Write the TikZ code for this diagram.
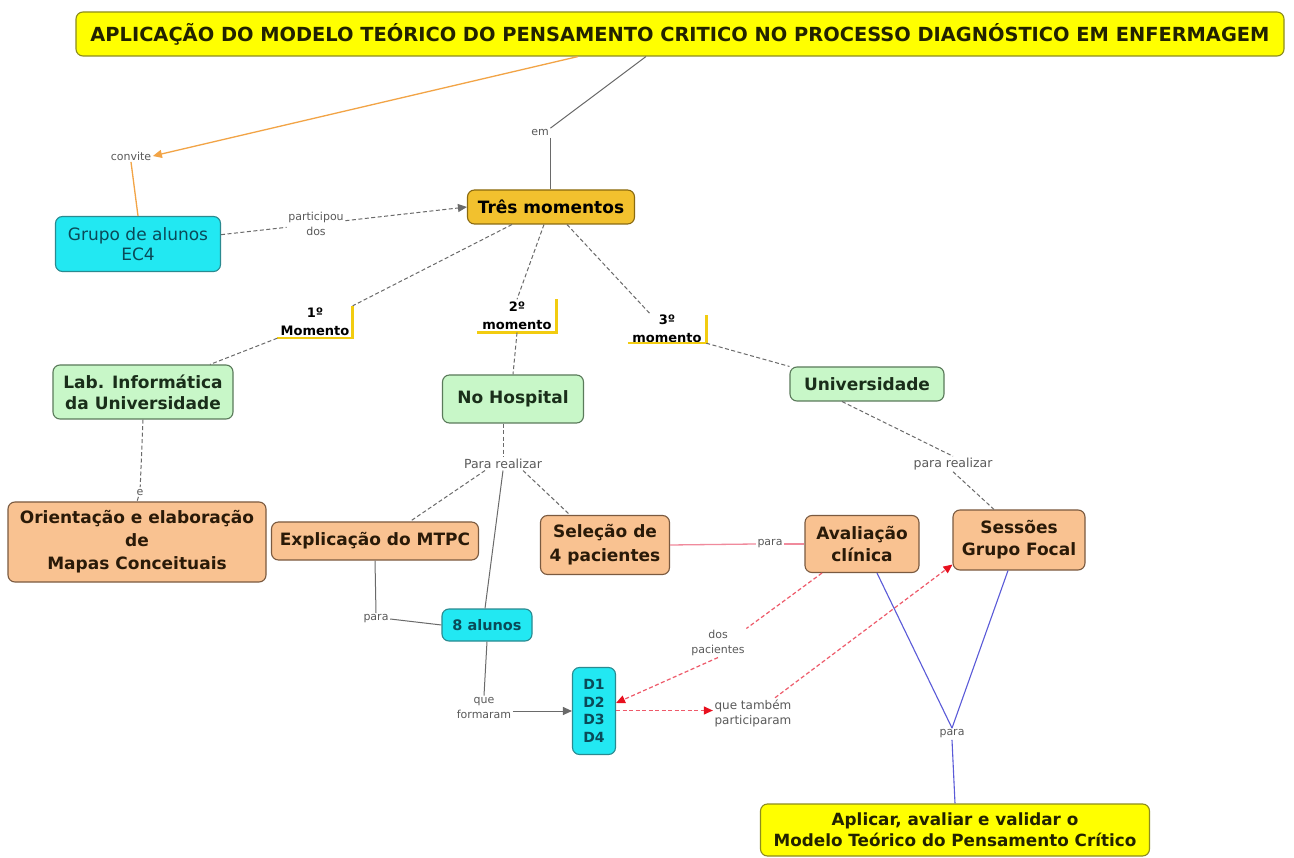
\documentclass[tikz,border=0pt]{standalone}
\usepackage{fontspec}
\setmainfont{DejaVu Sans}
\usetikzlibrary{arrows.meta}

\definecolor{ttlfill}{HTML}{FFFF00}
\definecolor{ttlline}{HTML}{8C8C1E}
\definecolor{ttltext}{HTML}{222200}
\definecolor{goldfill}{HTML}{F2C12E}
\definecolor{goldline}{HTML}{8A6A10}
\definecolor{cyanfill}{HTML}{22E8F2}
\definecolor{cyanline}{HTML}{2A8A90}
\definecolor{cyantext}{HTML}{0A4A58}
\definecolor{greenfill}{HTML}{C8F7C8}
\definecolor{greenline}{HTML}{5A7A5A}
\definecolor{greentext}{HTML}{1A2E1A}
\definecolor{orfill}{HTML}{F9C291}
\definecolor{orline}{HTML}{7A5A40}
\definecolor{ortext}{HTML}{2A1A08}
\definecolor{lbltext}{HTML}{5A5A5A}
\definecolor{momyellow}{HTML}{F2CC10}
\definecolor{invite}{HTML}{F2A446}
\definecolor{linkgray}{HTML}{6A6A6A}
\definecolor{pinkline}{HTML}{F08A9C}
\definecolor{reddash}{HTML}{EE5A6A}
\definecolor{redtip}{HTML}{E8101E}
\definecolor{blueline}{HTML}{5A5AD8}

\tikzset{
  concept/.style={draw, rounded corners=7pt, line width=1.1pt, align=center,
    inner sep=0pt, font=\bfseries\fontsize{17}{22}\selectfont},
  ttlbox/.style={concept, fill=ttlfill, draw=ttlline, text=ttltext},
  goldbox/.style={concept, fill=goldfill, draw=goldline, text=black},
  cyanbox/.style={concept, fill=cyanfill, draw=cyanline, text=cyantext},
  greenbox/.style={concept, fill=greenfill, draw=greenline, text=greentext},
  orbox/.style={concept, fill=orfill, draw=orline, text=ortext},
  lbl/.style={font=\fontsize{11}{15}\selectfont, text=lbltext, align=center, inner sep=1.5pt},
  mom/.style={font=\bfseries\fontsize{13}{18}\selectfont, text=black, align=center, inner sep=0pt},
  momline/.style={draw=momyellow, line width=2.6pt},
  tipk/.style={-{Triangle[length=9pt,width=8pt]}},
  invitelink/.style={draw=invite, line width=1.3pt},
  solidlink/.style={draw=linkgray, line width=1pt},
  dashlink/.style={draw=linkgray, line width=1pt, dash pattern=on 4pt off 2.5pt},
  pinklink/.style={draw=pinkline, line width=1.3pt},
  redlink/.style={draw=reddash, line width=1.2pt, dash pattern=on 4pt off 2.5pt},
  redtipk/.style={-{Triangle[length=9pt,width=8pt,color=redtip]}},
  bluelink/.style={draw=blueline, line width=1.1pt},
}

\begin{document}
\begin{tikzpicture}[x=1pt,y=-1pt]
\useasboundingbox[fill=white] (0,0) rectangle (1294,858);

% concepts
\node[ttlbox, minimum width=1208pt, minimum height=44pt, font=\bfseries\fontsize{19.4}{22}\selectfont] (title) at (680,34)
  {APLICAÇÃO DO MODELO TEÓRICO DO PENSAMENTO CRITICO NO PROCESSO DIAGNÓSTICO EM ENFERMAGEM};
\node[goldbox, minimum width=167pt, minimum height=34pt] (tres) at (551,207) {Três momentos};
\node[cyanbox, minimum width=165pt, minimum height=55pt, font=\fontsize{17}{20}\selectfont] (grupo) at (138,244) {Grupo de alunos\\EC4};
\node[greenbox, minimum width=180pt, minimum height=54pt, font=\bfseries\fontsize{17}{21}\selectfont] (lab) at (143,392) {Lab. Informática\\da Universidade};
\node[greenbox, minimum width=141pt, minimum height=48pt] (hosp) at (513,399) {No Hospital};
\node[greenbox, minimum width=154pt, minimum height=34pt] (univ) at (867,384) {Universidade};
\node[orbox, minimum width=258pt, minimum height=80pt, font=\bfseries\fontsize{17}{23}\selectfont] (orient) at (137,542) {Orientação e elaboração\\de\\Mapas Conceituais};
\node[orbox, minimum width=207pt, minimum height=38pt] (expl) at (375,541) {Explicação do MTPC};
\node[orbox, minimum width=129pt, minimum height=59pt, font=\bfseries\fontsize{17}{24}\selectfont] (selec) at (605,545) {Seleção de\\4 pacientes};
\node[orbox, minimum width=114pt, minimum height=57pt] (aval) at (862,544) {Avaliação\\clínica};
\node[orbox, minimum width=132pt, minimum height=60pt] (sess) at (1019,540) {Sessões\\Grupo Focal};
\node[cyanbox, minimum width=90pt, minimum height=32pt, font=\bfseries\fontsize{14.5}{17}\selectfont] (oito) at (487,625) {8 alunos};
\node[cyanbox, minimum width=43pt, minimum height=87pt, font=\bfseries\fontsize{14}{17.7}\selectfont] (dd) at (594,711) {D1\\D2\\D3\\D4};
\node[ttlbox, minimum width=389pt, minimum height=52pt, font=\bfseries\fontsize{16.8}{21}\selectfont] (aplicar) at (955,830) {Aplicar, avaliar e validar o\\Modelo Teórico do Pensamento Crítico};

% moments
\node[mom, minimum width=75pt, minimum height=32pt] (m1) at (315,322) {1º\\Momento};
\node[mom, minimum width=79pt, minimum height=33pt] (m2) at (517,316) {2º\\momento};
\node[mom, minimum width=78pt, minimum height=28pt] (m3) at (667,329) {3º\\momento};
\foreach \m in {m1,m2,m3}
  \draw[momline] (\m.south west) -- (\m.south east) -- (\m.north east);

% linking phrases
\node[lbl] (convite) at (131,156) {convite};
\node[lbl] (em) at (540,133) {em};
\node[lbl] (part) at (316,224) {participou\\dos};
\node[lbl] (e) at (140,492) {e};
\node[lbl, font=\fontsize{12.5}{15}\selectfont] (pr) at (503,464) {Para realizar};
\node[lbl, font=\fontsize{12.5}{15}\selectfont] (pru) at (953,464) {para realizar};
\node[lbl] (para1) at (770,544) {para};
\node[lbl] (para2) at (376,619) {para};
\node[lbl] (qf) at (484,708) {que\\formaram};
\node[lbl] (dp) at (718,643) {dos\\pacientes};
\node[lbl, font=\fontsize{12}{15}\selectfont] (qt) at (753,713) {que também\\participaram};
\node[lbl] (para4) at (952,734) {para};

% connectors
\draw[invitelink, -{Triangle[length=9pt,width=8pt]}] ([xshift=-102pt]title.south) -- (convite.east);
\draw[invitelink] (convite.south) -- (grupo.north);

\draw[solidlink] ([xshift=-34pt]title.south) -- (em.north east);
\draw[solidlink] (em.south east) -- (em.south east |- tres.north);

\draw[dashlink] (grupo) -- (part);
\draw[dashlink, tipk] (part) -- (tres.west);

\draw[dashlink] ([xshift=-39pt]tres.south) -- (m1.north east);
\draw[dashlink] (m1.south west) -- ([xshift=67pt]lab.north);
\draw[dashlink] ([xshift=-7pt]tres.south) -- (m2.north);
\draw[dashlink] (m2.south) -- (hosp.north);
\draw[dashlink] ([xshift=16pt]tres.south) -- ([xshift=-16pt]m3.north);
\draw[dashlink] (m3.south east) -- (univ.north west);

\draw[dashlink] (lab.south) -- (e);
\draw[dashlink] (e) -- (orient.north);

\draw[dashlink] ([xshift=-10pt]hosp.south) -- (pr.north);
\draw[dashlink] ([xshift=-18pt]pr.south) -- ([xshift=35pt]expl.north);
\draw[dashlink] ([xshift=20pt]pr.south) -- ([xshift=-35pt]selec.north);
\draw[solidlink] (pr.south) -- ([xshift=-2pt]oito.north);

\draw[dashlink] ([xshift=-25pt]univ.south) -- (pru.north);
\draw[dashlink] (pru.south) -- ([xshift=-25pt]sess.north);

\draw[solidlink] (expl.south) -- (para2.north);
\draw[solidlink] (para2.east) -- (oito.west);
\draw[solidlink] (oito.south) -- (qf.north);
\draw[solidlink, tipk] (qf.east |- dd.west) -- (dd.west);

\draw[pinklink] (selec.east) -- (para1.west);
\draw[pinklink] (para1.east) -- (aval.west);

\draw[redlink] ([xshift=-40pt]aval.south) -- (dp.north east);
\draw[redlink, redtipk] (dp.south) -- ([yshift=8pt]dd.east);
\draw[redlink, redtipk] ([yshift=0.5pt]dd.east) -- ([yshift=0.5pt]dd.east -| qt.west);
\draw[redlink, redtipk] ([xshift=22pt]qt.north) -- ([yshift=6pt]sess.south west);

\draw[bluelink] ([xshift=15pt]aval.south) -- (para4.north);
\draw[bluelink] ([xshift=-11pt]sess.south) -- (para4.north);
\draw[bluelink] (para4.south) -- (aplicar.north);
\end{tikzpicture}
\end{document}
